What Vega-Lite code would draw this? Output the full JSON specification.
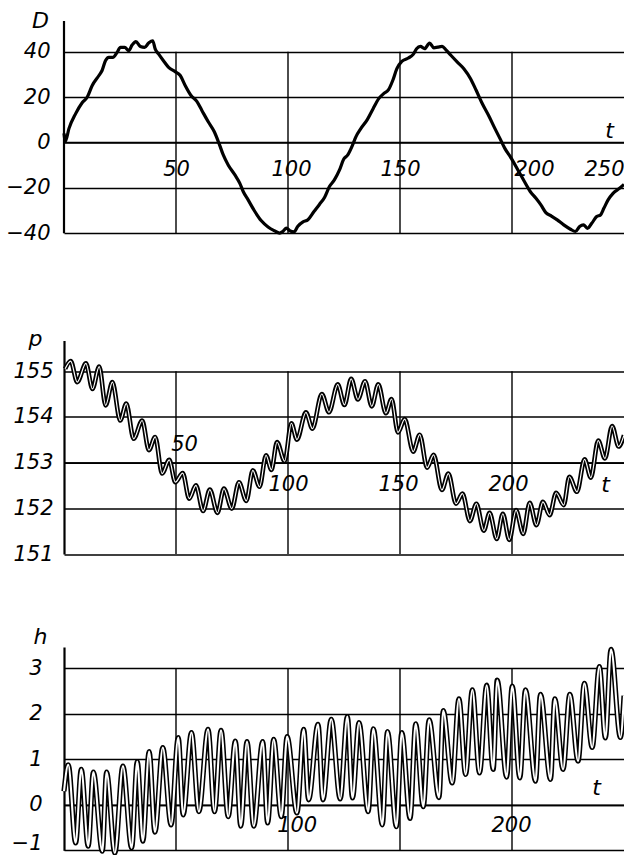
{
  "$schema": "https://vega.github.io/schema/vega-lite/v6.json",
  "background": "white",
  "padding": {"left": 5, "top": 9, "right": 0, "bottom": 0},
  "bounds": "flush",
  "spacing": 92.5,
  "config": {
    "view": {"stroke": null},
    "font": "DejaVu Sans",
    "axis": {
      "labelFont": "DejaVu Sans", "labelFontStyle": "italic", "labelFontSize": 21, "labelColor": "black",
      "titleFont": "DejaVu Sans", "titleFontStyle": "italic", "titleFontWeight": "normal", "titleFontSize": 22, "titleColor": "black",
      "domainColor": "black", "gridColor": "black", "gridOpacity": 1, "gridWidth": 1.4,
      "ticks": false, "tickSize": 0, "labelFlush": false, "labelOverlap": false, "labelBound": false
    }
  },
  "datasets": {
    "grid": [{"t": 50}, {"t": 100}, {"t": 150}, {"t": 200}],
    "D": [
      {"t":0,"D":4},{"t":0.6,"D":0.5},{"t":2.2,"D":6.1},{"t":5.2,"D":12.7},{"t":8.1,"D":17.5},{"t":10.4,"D":20},{"t":12.6,"D":25.1},{"t":15.6,"D":29.5},{"t":17,"D":31.7},{"t":18.5,"D":36},{"t":20,"D":37.5},{"t":21.8,"D":37.5},{"t":23.7,"D":39.7},{"t":25.2,"D":41.9},{"t":27.1,"D":41.9},{"t":28.9,"D":40.4},{"t":30.4,"D":42.9},{"t":32.1,"D":44.4},{"t":34.1,"D":42.3},{"t":36,"D":41.9},{"t":37.8,"D":43.8},{"t":39.6,"D":44.8},{"t":40.7,"D":41.2},{"t":42.2,"D":39},{"t":44.4,"D":36},{"t":46.7,"D":33.1},{"t":49.6,"D":31.2},{"t":51.9,"D":29.5},{"t":54.1,"D":25.1},{"t":56.7,"D":20.7},{"t":59.3,"D":18.1},{"t":61.5,"D":14.2},{"t":64.4,"D":9.1},{"t":67.1,"D":4.7},{"t":69.2,"D":-0.4},{"t":71.1,"D":-5.5},{"t":73.3,"D":-9.9},{"t":76.3,"D":-14.3},{"t":78.5,"D":-18},{"t":80,"D":-21.6},{"t":82.2,"D":-25.3},{"t":85.2,"D":-30.4},{"t":88.1,"D":-34.5},{"t":91.1,"D":-37.2},{"t":93.8,"D":-38.8},{"t":96.3,"D":-39.9},{"t":97.8,"D":-39.1},{"t":99.3,"D":-37.7},{"t":100.7,"D":-38.8},{"t":102.7,"D":-39.4},{"t":104.4,"D":-36.9},{"t":106.7,"D":-35},{"t":108.9,"D":-34},{"t":111.6,"D":-30.4},{"t":114.1,"D":-27.2},{"t":116.3,"D":-24.2},{"t":118.5,"D":-19.4},{"t":120.7,"D":-16.5},{"t":123,"D":-12.1},{"t":124.9,"D":-7.3},{"t":126.6,"D":-5.6},{"t":128.8,"D":-1.2},{"t":130.3,"D":2.5},{"t":132.5,"D":6.1},{"t":135.4,"D":10.1},{"t":138,"D":14.9},{"t":140.5,"D":19.3},{"t":142.7,"D":21.5},{"t":144.9,"D":23.3},{"t":146.8,"D":27.4},{"t":148.6,"D":32.5},{"t":150.8,"D":35.7},{"t":153.7,"D":37.2},{"t":155.9,"D":38.8},{"t":157.4,"D":41.3},{"t":159.1,"D":42.3},{"t":161,"D":41.3},{"t":163.2,"D":43.8},{"t":165.1,"D":41.7},{"t":166.9,"D":42},{"t":168.8,"D":42.3},{"t":170.5,"D":40.8},{"t":172.7,"D":38.4},{"t":175.6,"D":35.4},{"t":178.5,"D":32.5},{"t":181.5,"D":28.1},{"t":184,"D":23},{"t":186.6,"D":17.4},{"t":189.5,"D":12},{"t":192.4,"D":6.1},{"t":194.6,"D":1.8},{"t":196.8,"D":-2.6},{"t":199.7,"D":-7},{"t":202.7,"D":-12.2},{"t":205.6,"D":-17.3},{"t":208.2,"D":-21.7},{"t":210.7,"D":-24.6},{"t":212.9,"D":-27.5},{"t":215.1,"D":-30.9},{"t":217.6,"D":-32.4},{"t":220.2,"D":-34.1},{"t":223.1,"D":-36.3},{"t":226.1,"D":-38.2},{"t":228.3,"D":-39.2},{"t":230.2,"D":-37},{"t":231.9,"D":-36.3},{"t":233.7,"D":-37.8},{"t":235.6,"D":-35.6},{"t":237.8,"D":-32.6},{"t":239.5,"D":-31.9},{"t":241,"D":-29},{"t":242.9,"D":-25.3},{"t":245.1,"D":-22.4},{"t":248,"D":-20.2},{"t":250,"D":-18.5}
    ],
    "p": [
      {"t":0.5,"p":155.05},{"t":3,"p":155.22},{"t":5.9,"p":154.76},{"t":9.8,"p":155.17},{"t":12.7,"p":154.61},{"t":15.7,"p":155.1},{"t":18.6,"p":154.25},{"t":21.6,"p":154.76},{"t":25.1,"p":153.92},{"t":27.8,"p":154.29},{"t":31.1,"p":153.52},{"t":34.9,"p":153.92},{"t":37.9,"p":153.27},{"t":40.7,"p":153.56},{"t":43.8,"p":152.76},{"t":47,"p":153.06},{"t":49.7,"p":152.57},{"t":53,"p":152.77},{"t":55.9,"p":152.21},{"t":58.9,"p":152.5},{"t":62.1,"p":151.94},{"t":65.1,"p":152.41},{"t":68.5,"p":151.9},{"t":71.4,"p":152.43},{"t":74.9,"p":151.99},{"t":78.1,"p":152.57},{"t":81.4,"p":152.16},{"t":84.3,"p":152.83},{"t":87.3,"p":152.47},{"t":90.2,"p":153.16},{"t":92.6,"p":152.84},{"t":95.1,"p":153.45},{"t":98.5,"p":153.03},{"t":101.5,"p":153.86},{"t":104,"p":153.5},{"t":108,"p":154.1},{"t":110.9,"p":153.74},{"t":115.1,"p":154.5},{"t":118.3,"p":154.1},{"t":122.2,"p":154.71},{"t":125.2,"p":154.26},{"t":128.2,"p":154.83},{"t":131.2,"p":154.38},{"t":134.4,"p":154.78},{"t":137.4,"p":154.23},{"t":140.3,"p":154.71},{"t":143.7,"p":154.08},{"t":146.2,"p":154.39},{"t":149.1,"p":153.66},{"t":152.1,"p":153.95},{"t":155.9,"p":153.24},{"t":158.8,"p":153.61},{"t":162.1,"p":152.89},{"t":165,"p":153.17},{"t":168.7,"p":152.4},{"t":171.6,"p":152.76},{"t":175,"p":152.1},{"t":177.9,"p":152.32},{"t":181.2,"p":151.72},{"t":184.1,"p":152.1},{"t":187.4,"p":151.51},{"t":190,"p":151.9},{"t":193.2,"p":151.33},{"t":195.9,"p":151.88},{"t":198.8,"p":151.31},{"t":201.8,"p":151.96},{"t":205,"p":151.44},{"t":207.9,"p":152.12},{"t":210.9,"p":151.63},{"t":213.8,"p":152.14},{"t":216.8,"p":151.85},{"t":219.7,"p":152.34},{"t":223.1,"p":152.07},{"t":225.6,"p":152.69},{"t":229,"p":152.36},{"t":232.4,"p":153.07},{"t":235.2,"p":152.67},{"t":238.5,"p":153.48},{"t":241.5,"p":153.09},{"t":244.7,"p":153.8},{"t":247.6,"p":153.35},{"t":250,"p":153.6}
    ],
    "h": [
      {"t":0,"h":0.3},{"t":1.9,"h":0.88},{"t":5.2,"h":-0.84},{"t":7.7,"h":0.78},{"t":10.8,"h":-0.91},{"t":13.1,"h":0.72},{"t":17.1,"h":-1.02},{"t":19,"h":0.72},{"t":22.7,"h":-1.06},{"t":26.3,"h":0.85},{"t":30.2,"h":-0.95},{"t":32.7,"h":0.95},{"t":35.2,"h":-0.8},{"t":38,"h":1.17},{"t":40.6,"h":-0.6},{"t":44.1,"h":1.26},{"t":47.8,"h":-0.44},{"t":51,"h":1.48},{"t":53.2,"h":-0.22},{"t":56.9,"h":1.59},{"t":60.2,"h":-0.15},{"t":64.3,"h":1.66},{"t":67.2,"h":-0.15},{"t":70.1,"h":1.64},{"t":73.3,"h":-0.26},{"t":76.5,"h":1.4},{"t":78.9,"h":-0.47},{"t":81.7,"h":1.39},{"t":84.7,"h":-0.47},{"t":88.7,"h":1.39},{"t":90.9,"h":-0.4},{"t":93.6,"h":1.44},{"t":97,"h":-0.26},{"t":99.6,"h":1.5},{"t":104,"h":-0.18},{"t":107,"h":1.66},{"t":109.2,"h":0.11},{"t":113.4,"h":1.77},{"t":115.6,"h":0.11},{"t":119.3,"h":1.88},{"t":123.3,"h":0.13},{"t":126.5,"h":1.94},{"t":128.8,"h":0.15},{"t":131.7,"h":1.81},{"t":135.8,"h":-0.15},{"t":138.1,"h":1.67},{"t":142.1,"h":-0.44},{"t":144.4,"h":1.61},{"t":148.4,"h":-0.48},{"t":150.8,"h":1.59},{"t":154.5,"h":-0.3},{"t":157,"h":1.78},{"t":160.4,"h":-0.04},{"t":163,"h":1.87},{"t":167.4,"h":0.16},{"t":169.3,"h":2.07},{"t":173.3,"h":0.48},{"t":176.3,"h":2.33},{"t":179.3,"h":0.67},{"t":182.3,"h":2.53},{"t":185.5,"h":0.7},{"t":188.7,"h":2.63},{"t":191.6,"h":0.78},{"t":193.4,"h":2.74},{"t":197.6,"h":0.61},{"t":200.1,"h":2.61},{"t":203.5,"h":0.59},{"t":206,"h":2.53},{"t":210.5,"h":0.52},{"t":212.7,"h":2.43},{"t":217.2,"h":0.56},{"t":219.1,"h":2.33},{"t":222.8,"h":0.78},{"t":225.8,"h":2.43},{"t":229.5,"h":0.96},{"t":232.3,"h":2.67},{"t":235.8,"h":1.26},{"t":239,"h":3.04},{"t":241.7,"h":1.47},{"t":244.2,"h":3.42},{"t":248.4,"h":1.48},{"t":250,"h":2.4}
    ]
  },
  "vconcat": [
    {
      "width": 560, "height": 226.5,
      "layer": [
        {
          "data": {"name": "grid"},
          "mark": {"type": "rule", "color": "black", "strokeWidth": 1.4},
          "encoding": {
            "x": {"field": "t", "type": "quantitative", "scale": {"domain": [0, 250], "nice": false, "zero": false},
              "axis": {"title": "t", "values": [50, 100, 150, 200, 250], "grid": false, "domain": true, "domainWidth": 1.7, "offset": -105,
                "labelBaseline": "middle", "labelPadding": 26.5,
                "labelOffset": {"condition": [{"test": "datum.value == 200", "value": 22}, {"test": "datum.value == 250", "value": -20}, {"test": "datum.value == 100", "value": 3}], "value": 0},
                "titleX": 545, "titleY": -5, "titleAlign": "center", "titleBaseline": "alphabetic", "titleAngle": 0}},
            "y": {"datum": -40, "type": "quantitative", "scale": {"domain": [-46.25, 53.5], "nice": false, "zero": false},
              "axis": {"title": "D", "values": [-40, -20, 0, 20, 40], "grid": true, "domain": false, "labelPadding": 14,
                "titleAngle": 0, "titleX": -24, "titleY": 6, "titleAlign": "center", "titleBaseline": "alphabetic"}},
            "y2": {"datum": 40}
          }
        },
        {
          "data": {"values": [{}]},
          "mark": {"type": "rule", "color": "black", "strokeWidth": 2.2},
          "encoding": {"x": {"datum": 0, "type": "quantitative"}, "y": {"datum": -40, "type": "quantitative"}, "y2": {"datum": 53.5}}
        },
        {
          "data": {"name": "D"},
          "mark": {"type": "line", "color": "black", "strokeWidth": 3.2, "interpolate": "monotone"},
          "encoding": {"x": {"field": "t", "type": "quantitative", "title": "t"}, "y": {"field": "D", "type": "quantitative", "title": "D"}}
        }
      ]
    },
    {
      "width": 560, "height": 213.5,
      "layer": [
        {
          "data": {"name": "grid"},
          "mark": {"type": "rule", "color": "black", "strokeWidth": 1.4},
          "encoding": {
            "x": {"field": "t", "type": "quantitative", "scale": {"domain": [0, 250], "nice": false, "zero": false},
              "axis": {"title": "t", "values": [50, 100, 150, 200], "grid": false, "domain": true, "domainWidth": 1.7, "offset": -91.4,
                "labelBaseline": "middle",
                "labelPadding": {"condition": {"test": "datum.value == 50", "value": -18}, "value": 22},
                "labelOffset": {"condition": [{"test": "datum.value == 50", "value": 8}, {"test": "datum.value == 200", "value": -4}, {"test": "datum.value == 150", "value": -2}], "value": 0},
                "titleX": 541, "titleY": 29, "titleAlign": "center", "titleBaseline": "alphabetic", "titleAngle": 0}},
            "y": {"datum": 151, "type": "quantitative", "scale": {"domain": [151, 155.67], "nice": false, "zero": false},
              "axis": {"title": "p", "values": [151, 152, 153, 154, 155], "grid": true, "domain": true, "domainWidth": 2.2, "labelPadding": 11,
                "titleAngle": 0, "titleX": -29, "titleY": 5, "titleAlign": "center", "titleBaseline": "alphabetic"}},
            "y2": {"datum": 155}
          }
        },
        {
          "data": {"name": "p"},
          "mark": {"type": "line", "color": "black", "strokeWidth": 4.6, "interpolate": "monotone"},
          "encoding": {"x": {"field": "t", "type": "quantitative", "title": "t"}, "y": {"field": "p", "type": "quantitative", "title": "p"}}
        },
        {
          "data": {"name": "p"},
          "mark": {"type": "line", "color": "white", "strokeWidth": 1.2, "interpolate": "monotone"},
          "encoding": {"x": {"field": "t", "type": "quantitative", "title": "t"}, "y": {"field": "p", "type": "quantitative", "title": "p"}}
        }
      ]
    },
    {
      "width": 560, "height": 203.3,
      "layer": [
        {
          "data": {"name": "grid"},
          "mark": {"type": "rule", "color": "black", "strokeWidth": 1.4},
          "encoding": {
            "x": {"field": "t", "type": "quantitative", "scale": {"domain": [0, 250], "nice": false, "zero": false},
              "axis": {"title": "t", "values": [50, 100, 150, 200], "grid": false, "domain": true, "domainWidth": 1.7, "offset": -45.5,
                "labelExpr": "datum.value % 100 === 0 ? datum.label : ''",
                "labelBaseline": "middle", "labelPadding": 21,
                "labelOffset": {"condition": [{"test": "datum.value == 100", "value": 8.7}, {"test": "datum.value == 200", "value": -1}], "value": 0},
                "titleX": 532, "titleY": -10, "titleAlign": "center", "titleBaseline": "alphabetic", "titleAngle": 0}},
            "y": {"datum": -1, "type": "quantitative", "scale": {"domain": [-1, 3.47], "nice": false, "zero": false},
              "axis": {"title": "h", "values": [-1, 0, 1, 2, 3], "grid": true, "domain": true, "domainWidth": 2.2, "labelPadding": 22,
                "labelOffset": {"condition": {"test": "datum.value == -1", "value": -7}, "value": 0},
                "titleAngle": 0, "titleX": -24, "titleY": -4, "titleAlign": "center", "titleBaseline": "alphabetic"}},
            "y2": {"datum": 3}
          }
        },
        {
          "data": {"name": "h"},
          "mark": {"type": "line", "color": "black", "strokeWidth": 5.2, "interpolate": "monotone"},
          "encoding": {"x": {"field": "t", "type": "quantitative", "title": "t"}, "y": {"field": "h", "type": "quantitative", "title": "h"}}
        },
        {
          "data": {"name": "h"},
          "mark": {"type": "line", "color": "white", "strokeWidth": 2.1, "interpolate": "monotone"},
          "encoding": {"x": {"field": "t", "type": "quantitative", "title": "t"}, "y": {"field": "h", "type": "quantitative", "title": "h"}}
        }
      ]
    }
  ]
}
